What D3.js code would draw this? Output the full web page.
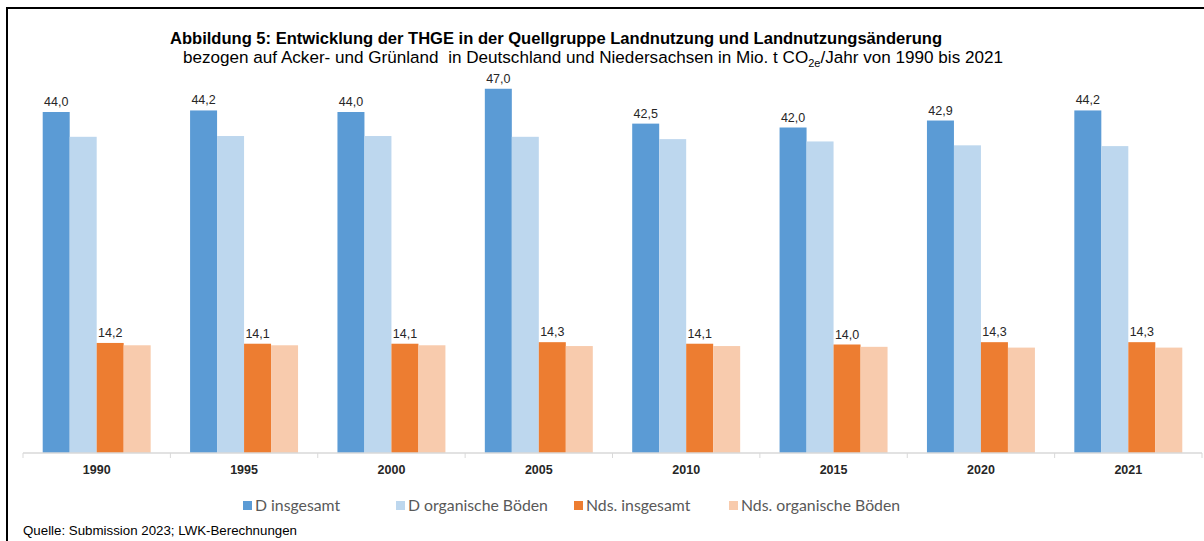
<!DOCTYPE html>
<html>
<head>
<meta charset="utf-8">
<script src="https://cdn.jsdelivr.net/npm/d3@7"></script>
<style>
  body { margin: 0; background: #fff; }
  svg { display: block; font-family: "Liberation Sans", Arial, sans-serif; }
</style>
</head>
<body>
<svg width="1204" height="541"></svg>
<script>
// Daten (Mio. t CO2e/Jahr)
const years = ["1990", "1995", "2000", "2005", "2010", "2015", "2020", "2021"];
const seriesNames = ["D insgesamt", "D organische Böden", "Nds. insgesamt", "Nds. organische Böden"];
const dInsgesamt = [44.0, 44.2, 44.0, 47.0, 42.5, 42.0, 42.9, 44.2];
const dOrganisch = [40.8, 40.9, 40.9, 40.8, 40.5, 40.2, 39.7, 39.6];
const ndsInsgesamt = [14.2, 14.1, 14.1, 14.3, 14.1, 14.0, 14.3, 14.3];
const ndsOrganisch = [13.9, 13.9, 13.9, 13.8, 13.8, 13.7, 13.6, 13.6];
const colors = ["#5b9bd5", "#bdd7ee", "#ed7d31", "#f8cbad"];
const labelled = [true, false, true, false];

const values = [dInsgesamt, dOrganisch, ndsInsgesamt, ndsOrganisch];
const rows = years.map((y, i) => ({ year: y, vals: values.map(v => v[i]) }));

const svg = d3.select("svg");

// Rahmen (oben + links)
svg.append("path")
  .attr("d", "M7,541 V8 H1204")
  .attr("fill", "none")
  .attr("stroke", "#000")
  .attr("stroke-width", 2);

// Titel
svg.append("text")
  .attr("x", 170).attr("y", 44)
  .attr("font-size", 16).attr("font-weight", "bold").attr("fill", "#000")
  .attr("textLength", 772).attr("lengthAdjust", "spacingAndGlyphs")
  .text("Abbildung 5: Entwicklung der THGE in der Quellgruppe Landnutzung und Landnutzungsänderung");

const sub = svg.append("text")
  .attr("x", 183).attr("y", 63)
  .attr("font-size", 17.1).attr("fill", "#000")
  .attr("xml:space", "preserve")
  .style("white-space", "pre");
sub.append("tspan").text("bezogen auf Acker- und Grünland  in Deutschland und Niedersachsen in Mio. t CO");
sub.append("tspan").attr("font-size", 11).attr("dy", 4).text("2e");
sub.append("tspan").attr("dy", -4).text("/Jahr von 1990 bis 2021");

// Skalen
const baseY = 453;
const x0 = d3.scaleBand().domain(years).range([23, 1202]).paddingInner(0).paddingOuter(0);
const x1 = d3.scaleBand().domain(d3.range(4)).range([0, x0.bandwidth()]).paddingInner(0).paddingOuter(0.73);
const y = d3.scaleLinear().domain([0, 50]).range([baseY, baseY - 387.5]);

// Balken
const groups = svg.append("g").selectAll("g")
  .data(rows)
  .join("g")
  .attr("transform", d => `translate(${x0(d.year)},0)`);

groups.selectAll("rect")
  .data(d => d.vals.map((v, i) => ({ v, i })))
  .join("rect")
  .attr("x", d => x1(d.i))
  .attr("y", d => y(d.v))
  .attr("width", x1.bandwidth())
  .attr("height", d => baseY - y(d.v))
  .attr("fill", d => colors[d.i]);

// Datenbeschriftungen
groups.selectAll("text")
  .data(d => d.vals.map((v, i) => ({ v, i })).filter(d => labelled[d.i]))
  .join("text")
  .attr("x", d => x1(d.i) + x1.bandwidth() / 2)
  .attr("y", d => y(d.v) - 6)
  .attr("text-anchor", "middle")
  .attr("font-size", 12.5)
  .attr("fill", "#262626")
  .text(d => d.v.toFixed(1).replace(".", ","));

// x-Achse
const axis = svg.append("g").attr("transform", `translate(0,${baseY})`);
axis.append("line")
  .attr("x1", 23).attr("x2", 1202)
  .attr("stroke", "#d9d9d9").attr("stroke-width", 1.5);
axis.selectAll("line.tick")
  .data(years.concat(["end"]))
  .join("line")
  .attr("class", "tick")
  .attr("x1", (d, i) => i < years.length ? x0(d) : x0.range()[1])
  .attr("x2", (d, i) => i < years.length ? x0(d) : x0.range()[1])
  .attr("y1", 0).attr("y2", 5)
  .attr("stroke", "#d9d9d9");
axis.selectAll("text")
  .data(years)
  .join("text")
  .attr("x", d => x0(d) + x0.bandwidth() / 2)
  .attr("y", 21)
  .attr("text-anchor", "middle")
  .attr("font-size", 12.5)
  .attr("font-weight", "bold")
  .attr("fill", "#262626")
  .text(d => d);

// Legende
const legendX = [243, 396, 574, 729];
const legend = svg.append("g").selectAll("g")
  .data(seriesNames)
  .join("g")
  .attr("transform", (d, i) => `translate(${legendX[i]},501)`);
legend.append("rect")
  .attr("width", 9).attr("height", 9)
  .attr("fill", (d, i) => colors[i]);
legend.append("text")
  .attr("x", 12).attr("y", 10)
  .attr("font-family", "Lato, 'Open Sans', sans-serif")
  .attr("font-size", 15.8)
  .attr("fill", "#595959")
  .text(d => d);

// Quelle
svg.append("text")
  .attr("x", 23).attr("y", 535)
  .attr("font-size", 13.3)
  .attr("fill", "#000")
  .text("Quelle: Submission 2023; LWK-Berechnungen");
</script>
</body>
</html>
